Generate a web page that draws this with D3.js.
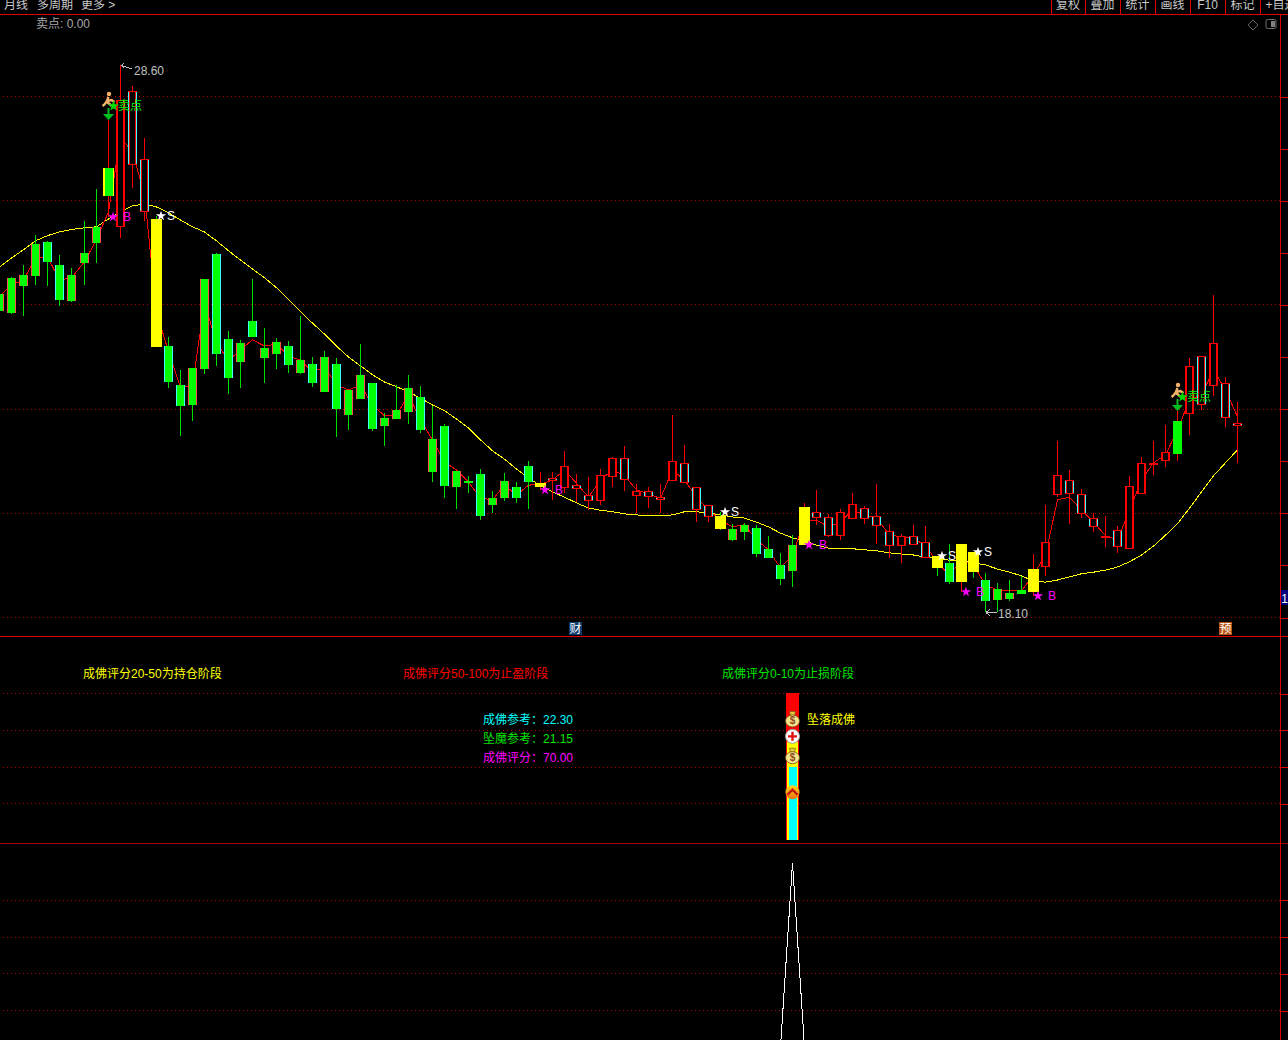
<!DOCTYPE html>
<html><head><meta charset="utf-8">
<script src="https://cdn.jsdelivr.net/npm/d3@7"></script>
<style>
html,body{margin:0;padding:0;background:#000;overflow:hidden}
text{font-family:"Liberation Sans","Noto Sans CJK SC",sans-serif;font-size:12px}
</style></head><body>
<script>
const opens=[24.20,24.51,24.57,25.16,25.20,24.76,24.57,24.99,25.49,26.08,25.49,26.68,25.78,25.64,23.20,22.45,22.78,24.49,24.97,23.34,23.26,23.68,23.16,23.28,23.20,22.93,22.86,22.99,22.86,22.36,22.65,22.49,21.82,21.97,22.40,22.22,21.42,21.67,20.80,20.61,20.75,20.28,20.61,20.50,20.90,20.50,20.61,20.48,20.46,20.23,20.23,20.69,20.63,20.32,20.30,20.25,20.61,20.57,20.05,19.92,19.94,19.69,19.77,19.71,19.31,19.00,19.38,19.38,19.90,19.56,19.56,19.88,19.88,19.75,19.36,19.36,19.38,19.13,19.17,19.04,18.67,19.25,18.71,18.54,18.46,18.52,18.48,18.96,20.34,20.36,19.98,19.73,19.54,19.34,19.31,20.36,20.94,21.00,21.13,21.90,22.07,22.44,21.82,21.67];
const closes=[23.88,23.84,24.36,24.55,24.82,24.09,24.07,24.80,25.18,26.62,27.93,28.10,26.79,23.18,22.51,22.05,22.07,22.76,23.05,22.59,22.90,23.38,22.97,23.05,22.84,22.68,22.49,22.32,21.99,21.88,22.19,21.61,21.67,21.80,21.94,21.59,20.78,20.52,20.50,20.59,19.94,20.15,20.28,20.28,20.59,20.57,20.67,20.90,20.53,20.34,20.73,21.05,21.05,20.42,20.42,20.30,21.00,20.96,20.50,20.15,19.69,19.48,19.63,19.21,19.13,18.73,18.88,20.11,20.02,19.92,20.02,20.17,20.09,19.94,19.65,19.56,19.56,19.44,18.94,18.67,19.40,18.86,18.31,18.33,18.35,18.44,18.92,19.44,20.73,20.63,20.36,19.90,19.56,19.67,20.52,20.96,20.96,21.17,21.76,22.82,23.01,23.26,22.49,21.72];
const highs=[24.28,24.53,24.76,25.33,25.22,24.95,24.70,25.60,26.22,27.56,28.60,28.20,27.20,25.70,23.38,22.74,22.78,24.49,24.99,23.49,23.32,24.49,23.55,23.36,23.30,23.78,22.99,23.11,22.97,22.36,23.24,22.49,21.92,22.45,22.65,22.44,22.05,21.71,20.80,20.71,20.84,20.42,20.76,20.59,21.00,20.78,20.78,21.19,20.75,20.69,20.84,21.07,21.28,20.55,20.50,20.55,21.88,21.30,20.50,20.15,20.02,19.79,19.80,19.77,19.56,19.23,19.57,20.19,20.44,19.98,20.07,20.38,20.13,20.55,19.79,19.59,19.77,19.75,19.17,19.40,19.40,19.25,18.84,18.65,18.71,18.79,19.21,20.15,21.38,20.82,20.46,20.00,19.94,19.75,20.71,21.07,21.38,21.69,21.97,22.97,23.01,24.18,22.61,22.13];
const lows=[23.84,23.82,23.78,24.37,24.36,23.97,24.05,24.37,24.80,25.68,25.28,26.24,25.60,23.18,22.40,21.48,21.76,22.67,22.82,22.28,22.40,23.38,22.49,22.76,22.68,22.67,22.42,22.32,21.46,21.59,22.19,21.57,21.28,21.80,21.71,21.53,20.59,20.28,20.07,20.38,19.86,20.00,20.23,20.19,20.07,20.44,20.25,20.38,20.21,20.05,20.15,20.50,20.42,20.00,20.09,20.00,20.61,20.57,19.82,19.82,19.67,19.46,19.48,19.15,19.13,18.61,18.58,19.38,19.77,19.54,19.48,19.88,19.79,19.40,19.13,19.04,19.38,19.13,18.79,18.63,18.48,18.75,18.10,18.10,18.31,18.44,18.40,18.79,20.30,19.79,19.90,19.63,19.34,19.23,19.31,20.36,20.73,20.88,21.00,21.49,21.97,22.24,21.65,20.96];
const redLine=[24.16,24.37,24.47,24.89,24.91,24.47,24.51,24.82,25.24,25.78,27.20,26.93,26.10,23.86,23.09,22.40,22.45,24.03,23.26,22.92,23.13,23.32,23.20,23.24,23.01,22.93,22.70,22.80,22.45,22.36,22.45,22.07,21.86,21.88,22.26,21.78,21.40,20.98,20.82,20.59,20.28,20.25,20.53,20.34,20.53,20.55,20.63,20.82,20.57,20.30,20.63,20.82,20.71,20.44,20.36,20.28,20.82,20.63,20.30,20.05,19.86,19.73,19.77,19.48,19.29,18.94,19.19,19.86,19.86,19.73,19.82,20.05,19.96,19.90,19.57,19.54,19.50,19.38,19.04,18.81,19.09,19.00,18.61,18.52,18.50,18.50,18.81,19.19,20.25,20.30,20.05,19.82,19.56,19.48,20.05,20.63,20.96,21.11,21.59,22.17,22.26,22.74,22.36,21.84];
const yellowLine=[24.72,24.89,25.05,25.22,25.32,25.39,25.44,25.47,25.49,25.64,25.78,25.89,25.93,25.87,25.76,25.62,25.49,25.39,25.22,25.03,24.85,24.68,24.51,24.32,24.09,23.86,23.64,23.43,23.20,22.99,22.82,22.65,22.51,22.42,22.32,22.20,22.07,21.96,21.80,21.63,21.40,21.19,21.03,20.84,20.67,20.52,20.40,20.30,20.19,20.09,20.05,20.02,19.98,19.96,19.94,19.94,19.96,20.02,20.02,20.00,19.96,19.92,19.90,19.82,19.73,19.61,19.52,19.46,19.38,19.32,19.31,19.31,19.29,19.27,19.23,19.21,19.19,19.15,19.13,19.09,19.08,19.04,19.00,18.92,18.86,18.79,18.69,18.67,18.71,18.77,18.83,18.86,18.90,18.96,19.06,19.19,19.36,19.57,19.79,20.09,20.40,20.71,20.96,21.21];
const cyanEdged=[4,5,11,12,14,15,18,19,21,24,26,28,31,35,37,40,43,44,46,48,49,52,54,55,57,58,59,63,64,65,68,69,72,73,74,76,77,79,82,89,90,91,93,100,102,103];
const salmonEdged=[0,1,2,3,6,7,8,16,17,20,22,23,25,27,29,30,32,33,34,36,38,41,42,61,62,66,83,84];
const yellowBars=[9,13,45,60,67,78,80,81,86];
const greenOverRed=[9,98];
const sellStars=[13,60,78,81];
const buyStars=[9,45,67,80,86];
const sellPoints=[9,98];
const priceGrid=[28,26,24,22,20,18];
const priceTicks=[28,27,26,25,24,23,22,21,20,19,18];
const scoreGrid=[100,75,50,25];
const scoreBar=[{v:100,c:"#ff0000"},{v:67,c:"#ffff00"},{v:50,c:"#00ffff"}];
const scoreIcons=[{v:82,k:"bag"},{v:70.5,k:"plus"},{v:57,k:"bag"},{v:32.5,k:"up"}];
const spike=[{i:65,v:0},{i:66,v:125},{i:67,v:0}];
const signalBar=66;
const topLeft=[["月线",4],["多周期",37],["更多 >",81]];
const topRight=["复权","叠加","统计","画线","F10","标记","+自选"];
const topSeps=[1051,1085,1120,1155,1190,1225,1260];
const bandNotes=[{t:"成佛评分20-50为持仓阶段",c:"#ffff00",x:83},{t:"成佛评分50-100为止盈阶段",c:"#ff0000",x:403},{t:"成佛评分0-10为止损阶段",c:"#00e600",x:722}];
const refNotes=[{t:"成佛参考：",v:22.30,c:"#00ffff",y:724},{t:"坠魔参考：",v:21.15,c:"#00e600",y:743},{t:"成佛评分：",v:70.00,c:"#ff00ff",y:762}];

const W=1288,H=1040,RIGHT=1280;
const x0=d3.scaleLinear().domain([0,103]).range([-0.1,1237.445]);
const X=i=>Math.floor(x0(i));
const Y=d3.scaleLinear().domain([18,28]).range([617,96]);
const Ys=d3.scaleLinear().domain([0,100]).range([840,693]);
const Yb=d3.scaleLinear().domain([0,125]).range([1047,863]);
const R=v=>Math.round(v);
const fmt=d3.format(".2f");
const svg=d3.select("body").append("svg").attr("width",W).attr("height",H).style("display","block");
svg.append("rect").attr("width",W).attr("height",H).attr("fill","#000");
const crisp=svg.append("g").attr("shape-rendering","crispEdges");

function grid(vals,sc){
  crisp.append("g").selectAll("line").data(vals).join("line")
   .attr("x1",3).attr("x2",RIGHT).attr("y1",d=>R(sc(d))+.5).attr("y2",d=>R(sc(d))+.5)
   .attr("stroke","#b00000").attr("stroke-dasharray","1 3");
}
grid(priceGrid,Y);grid(scoreGrid,Ys);grid(scoreGrid,Yb);

[[14,"#e00000"],[636,"#e00000"],[843,"#a80000"]].forEach(([y,c])=>crisp.append("line").attr("x1",0).attr("x2",W).attr("y1",y+.5).attr("y2",y+.5).attr("stroke",c));
crisp.append("line").attr("x1",RIGHT+.5).attr("x2",RIGHT+.5).attr("y1",14).attr("y2",H).attr("stroke","#e00000");
topSeps.forEach(x=>crisp.append("line").attr("x1",x+.5).attr("x2",x+.5).attr("y1",0).attr("y2",14).attr("stroke","#e00000"));

function rightAxis(sc,vals){
  const g=crisp.append("g").attr("transform",`translate(${RIGHT+.5},0.5)`).call(d3.axisRight(sc).tickValues(vals).tickSize(8).tickFormat(""));
  g.select(".domain").remove();
  g.selectAll("line").attr("stroke","#e00000");
}
rightAxis(Y,priceTicks);rightAxis(Ys,scoreGrid);rightAxis(Yb,scoreGrid);

const lineGen=(arr)=>d3.line().x((d,i)=>X(i)+.5).y(d=>Y(d))(arr);
crisp.append("path").attr("d",lineGen(yellowLine)).attr("fill","none").attr("stroke","#ffff00");
crisp.append("path").attr("d",lineGen(redLine)).attr("fill","none").attr("stroke","#ff0000");

const RED="#ff0000",GRN="#00ff00",WICKG="#00e000",CY="#40ffff",SA="#ff5050";
const gc=crisp.append("g");
const box=(x,y,w,h,f)=>gc.append("rect").attr("x",x).attr("y",y).attr("width",w).attr("height",Math.max(h,0)).attr("fill",f);
opens.forEach((o,i)=>{
  const c=closes[i],up=c>=o,x=X(i);
  const top=R(Y(Math.max(o,c))),bot=R(Y(Math.min(o,c))),h=Math.max(bot-top,2);
  const hi=R(Y(highs[i])),lo=R(Y(lows[i]));
  box(x,hi,1,Math.max(lo-hi,1),up?RED:WICKG);
  const cy=cyanEdged.includes(i),sa=salmonEdged.includes(i);
  if(yellowBars.includes(i)){
    box(x-5,top,11,h,"#ffff00");
    if(greenOverRed.includes(i)) box(x-3,top,8,h,GRN);
  } else if(!up||greenOverRed.includes(i)){
    box(x-4,top,9,h,GRN);
    if(cy||sa)[x-4,x+4].forEach(e=>box(e,top,1,h,cy?CY:SA));
  } else {
    box(x-4,top,9,h,RED);
    box(x-2,top+1,5,h-2,"#000");
    if(cy)[x-4,x+4].forEach(e=>box(e,top+1,1,h-2,CY));
  }
});

const star=d3.symbol().type(d3.symbolStar).size(32);
function mark(x,y,c,lab){
  svg.append("path").attr("d",star()).attr("transform",`translate(${x},${y})`).attr("fill",c);
  svg.append("text").attr("x",x+(lab=="B"?10:6)).attr("y",y+4).attr("fill",c).text(lab);
}
sellStars.forEach(i=>mark(X(i)+5,R(Y(highs[i])),"#ffffff","S"));
buyStars.forEach(i=>mark(X(i)+5,R(Y(lows[i])),"#ff00ff","B"));

sellPoints.forEach(i=>{
  const x=X(i)+.5, o=R(Y(highs[i]))+1;
  const g=svg.append("g").attr("transform",`translate(${x},${o})`);
  g.append("circle").attr("cx",0.5).attr("cy",-26).attr("r",2.2).attr("fill","#f6b26b");
  g.append("path").attr("d","M0,-23 L-1.5,-19 L-4,-15.5 L-6,-14 M-1.5,-19 L3,-20 L6,-18 M-1.5,-18 L1,-16 L3,-14").attr("stroke","#f6b26b").attr("stroke-width",2.4).attr("fill","none");
  g.append("path").attr("d","M-1,-12 H1 V-6 H5.5 L0,0 L-5.5,-6 H-1 Z").attr("fill","#00c020");
  g.append("path").attr("d",d3.symbol().type(d3.symbolStar).size(36)()).attr("transform","translate(5,-14)").attr("fill","#00e000");
  g.append("text").attr("x",9.5).attr("y",-10).attr("fill","#00f000").text("卖点");
});

function extreme(i,p,tx,ty,label){
  const x=X(i),y=R(Y(p));
  svg.append("path").attr("d",label=="h"?`M${x+1},${y+.5} L${x+12},${y+4}`:`M${x+1},${y+.5} H${x+12} M${x+1},${y+.5} l4,-3 M${x+1},${y+.5} l4,3`).attr("stroke","#c0c0c0").attr("fill","none").attr("shape-rendering","crispEdges");
  if(label=="h") svg.append("path").attr("d",`M${x+1},${y+.5} l3,-2 M${x+1},${y+.5} l3,2`).attr("stroke","#c0c0c0").attr("shape-rendering","crispEdges");
  svg.append("text").attr("x",x+tx).attr("y",y+ty).attr("fill","#c0c0c0").text(fmt(p));
}
extreme(10,d3.max(highs),14,10,"h");
extreme(82,d3.min(lows),13,6,"l");

const txt=(s,x,y,c,a)=>svg.append("text").attr("x",x).attr("y",y).attr("fill",c).attr("text-anchor",a||"start").text(s);
topLeft.forEach(([s,x])=>txt(s,x,9,"#c8c8c8"));
topRight.forEach((s,k)=>txt(s,(topSeps[k]+(topSeps[k+1]||1288+14))/2,9,"#c8c8c8","middle"));
txt("卖点: 0.00",36,28,"#a8a8a8");
svg.append("path").attr("d","M1253,20 l5,5 l-5,5 l-5,-5 Z").attr("fill","none").attr("stroke","#606060");
svg.append("rect").attr("x",1266).attr("y",19.5).attr("width",10).attr("height",9).attr("rx",1.5).attr("fill","#000").attr("stroke","#707070");
svg.append("rect").attr("x",1271).attr("y",21).attr("width",4).attr("height",6).attr("fill","#808080");

function tag(x,y,w,h,bg,s){
  crisp.append("rect").attr("x",x).attr("y",y).attr("width",w).attr("height",h).attr("fill",bg);
  svg.append("text").attr("x",x+w/2).attr("y",y+h-2.5).attr("fill","#fff").attr("text-anchor","middle").text(s);
}
tag(569,622,13,13,"#0a3a6a","财");
tag(1219,622,13,13,"#b85010","预");
tag(1281,590,7,15,"#000080","1");

bandNotes.forEach(d=>txt(d.t,d.x,678,d.c));
refNotes.forEach(d=>{txt(d.t,483,d.y,d.c);txt(fmt(d.v),543,d.y,d.c);});
txt("坠落成佛",807,724,"#ffff00");

const xb=X(signalBar);
const widths=[[-6,13],[-5,11],[-3,8]];
scoreBar.forEach((d,k)=>{
  crisp.append("rect").attr("x",xb+widths[k][0]).attr("width",widths[k][1]).attr("y",R(Ys(d.v))).attr("height",R(Ys(0))-R(Ys(d.v))).attr("fill",d.c);
});
const defs=svg.append("defs");
const lg=defs.append("linearGradient").attr("id","upg").attr("x1",0).attr("y1",0).attr("x2",0).attr("y2",1);
lg.append("stop").attr("offset",0).attr("stop-color","#ffd820");lg.append("stop").attr("offset",1).attr("stop-color","#f07010");
scoreIcons.forEach(d=>{
  const g=svg.append("g").attr("transform",`translate(${xb+.5},${Ys(d.v)})`);
  if(d.k=="bag"){
    g.append("path").attr("d","M-3,-8 H3 L2,-4 H-2 Z").attr("fill","#e8c840").attr("stroke","#7a5a10").attr("stroke-width",.7);
    g.append("ellipse").attr("cy",1.5).attr("rx",7).attr("ry",6).attr("fill","#f7e48c").attr("stroke","#6a5010").attr("stroke-width",.8);
    g.append("text").attr("y",5).attr("text-anchor","middle").attr("fill","#8a4a20").style("font-size","10px").style("font-weight","bold").text("$");
  } else if(d.k=="plus"){
    g.append("circle").attr("r",7).attr("fill","#fff").attr("stroke","#999");
    g.append("path").attr("d","M-4.5,0 H4.5 M0,-4.5 V4.5").attr("stroke","#e01010").attr("stroke-width",2.4);
  } else {
    g.append("circle").attr("r",7).attr("fill","url(#upg)");
    g.append("path").attr("d","M-5,2.5 L0,-2.5 L5,2.5").attr("stroke","#c01808").attr("stroke-width",2.4).attr("fill","none");
  }
});

crisp.append("path").attr("d",d3.line().x(d=>X(d.i)+.5).y(d=>Yb(d.v))(spike)).attr("fill","none").attr("stroke","#ffffff");
</script>
</body></html>
